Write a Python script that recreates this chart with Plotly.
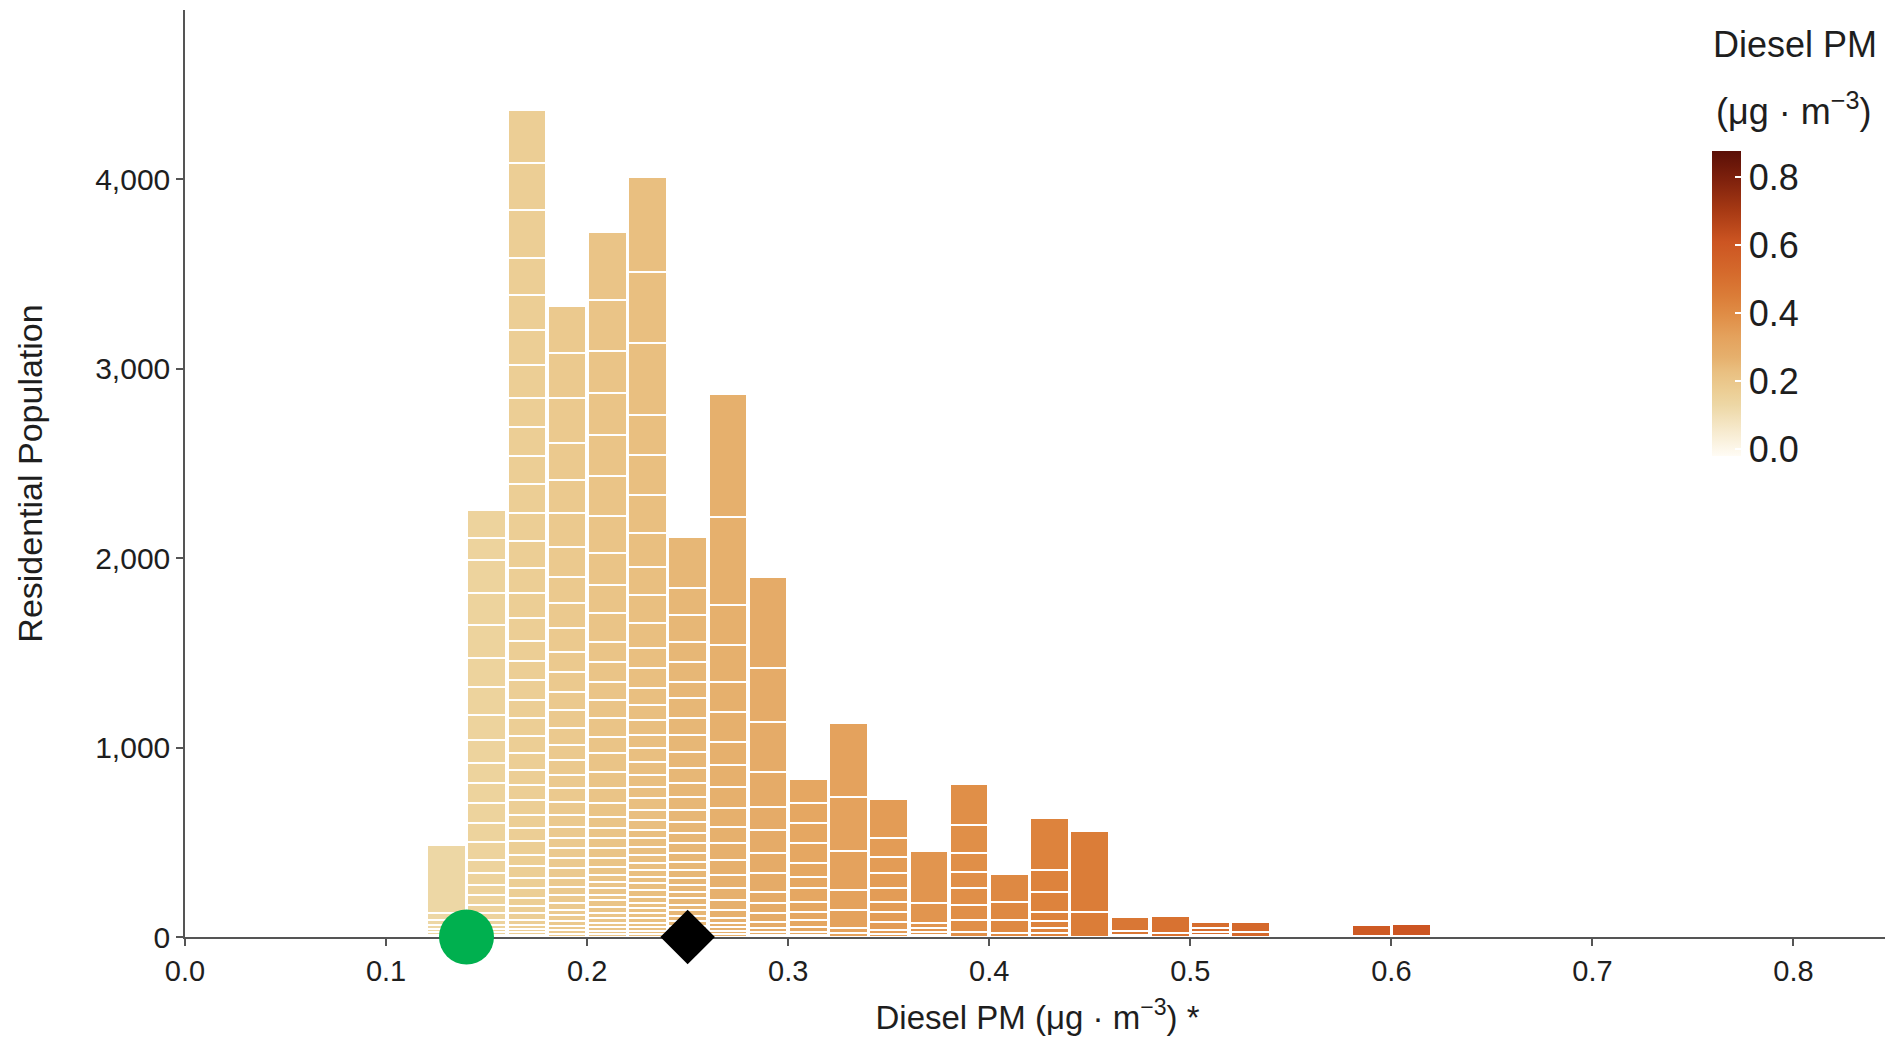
import plotly.graph_objects as go

# ---------------- data ----------------
# Each bin (width 0.02) is a stack of residential-population blocks,
# listed from the top of the stack downwards.
bin_width = 0.02
seg_013 = [359, 37, 26, 21, 16, 16, 11]
seg_015 = [148, 116, 174, 169, 174, 153, 148, 132, 121, 106, 106, 106, 100, 95, 69, 63,
           53, 53, 42, 37, 26, 21, 16, 16, 11]
seg_017 = [280, 248, 253, 195, 185, 185, 174, 153, 148, 153, 148, 148, 143, 132, 132, 121,
           106, 100, 106, 95, 95, 90, 90, 79, 79, 79, 69, 69, 74, 58, 63, 53, 53, 42, 37, 37,
           26, 21, 16, 16, 11]
seg_019 = [248, 237, 237, 195, 174, 179, 158, 137, 132, 127, 106, 106, 95, 95, 90, 79, 79,
           69, 74, 69, 63, 58, 53, 53, 53, 53, 47, 42, 42, 37, 26, 32, 26, 21, 21, 16]
seg_021 = [359, 269, 222, 222, 216, 211, 195, 169, 148, 153, 106, 106, 95, 95, 100, 84, 100,
           84, 79, 74, 58, 53, 53, 53, 47, 42, 37, 32, 37, 26, 37, 32, 26, 26, 21, 21, 16, 16]
seg_023 = [501, 375, 380, 211, 211, 201, 179, 148, 148, 132, 106, 106, 90, 79, 79, 69, 74, 69,
           63, 58, 63, 53, 53, 42, 47, 42, 42, 37, 37, 32, 37, 37, 32, 26, 26, 26, 26, 21, 21,
           16, 16]
seg_025 = [269, 142, 142, 106, 106, 84, 106, 90, 90, 84, 79, 74, 69, 63, 58, 53, 53, 47, 42,
           42, 37, 37, 32, 37, 26, 32, 26, 26, 21, 21, 16]
seg_027 = [654, 464, 211, 195, 158, 158, 121, 116, 111, 100, 84, 90, 79, 69, 63, 53, 42, 26,
           21, 21, 16, 16]
seg_029 = [480, 285, 264, 185, 121, 121, 106, 100, 58, 53, 47, 32, 21, 16, 11]
seg_031 = [127, 106, 106, 106, 74, 58, 74, 53, 42, 37, 26, 16, 11]
seg_033 = [390, 285, 206, 106, 95, 26, 21]
seg_035 = [206, 100, 84, 79, 74, 53, 53, 42, 21, 16]
seg_037 = [274, 106, 26, 21, 16, 11]
seg_039 = [216, 148, 100, 84, 90, 79, 63, 26]
seg_041 = [148, 95, 69, 21]
seg_043 = [274, 116, 106, 47, 37, 26, 21]
seg_045 = [427, 134]
seg_047 = [74, 21, 11]
seg_049 = [90, 21]
seg_051 = [32, 21, 16, 11]
seg_053 = [53, 26]
seg_059 = [58, 6]
seg_061 = [63, 6]

bin_centers = [0.13, 0.15, 0.17, 0.19, 0.21, 0.23, 0.25, 0.27, 0.29, 0.31, 0.33, 0.35,
               0.37, 0.39, 0.41, 0.43, 0.45, 0.47, 0.49, 0.51, 0.53, 0.59, 0.61]
bin_segments = [seg_013, seg_015, seg_017, seg_019, seg_021, seg_023, seg_025, seg_027,
                seg_029, seg_031, seg_033, seg_035, seg_037, seg_039, seg_041, seg_043,
                seg_045, seg_047, seg_049, seg_051, seg_053, seg_059, seg_061]

green_point_x = 0.14   # green circle on the axis
black_point_x = 0.25   # black diamond on the axis

x_ticks = [0.0, 0.1, 0.2, 0.3, 0.4, 0.5, 0.6, 0.7, 0.8]
y_ticks = [0, 1000, 2000, 3000, 4000]
cbar_ticks = [0.0, 0.2, 0.4, 0.6, 0.8]

# ---------------- style ----------------
FONT = "Liberation Sans, Arial, Helvetica, sans-serif"
AXIS_GREY = "#555555"
TEXT = "#1e1e1e"

colorscale = [
    [0.000, "#FFFCF5"],
    [0.078, "#F7EBD0"],
    [0.167, "#EDD7A5"],
    [0.212, "#ECCE95"],
    [0.278, "#E9BF80"],
    [0.323, "#E6B06D"],
    [0.390, "#E4A25D"],
    [0.457, "#E08F48"],
    [0.523, "#DB7D38"],
    [0.601, "#D56A2C"],
    [0.702, "#CC5522"],
    [0.802, "#A83A14"],
    [0.902, "#80220D"],
    [1.000, "#5A0F07"],
]

fig = go.Figure()

for center, segs in zip(bin_centers, bin_segments):
    stack = list(reversed(segs))  # bottom block first
    fig.add_trace(go.Bar(
        x=[center] * len(stack),
        y=stack,
        width=0.0192,
        marker=dict(
            color=[center] * len(stack),
            coloraxis="coloraxis",
            line=dict(color="white", width=2.2),
        ),
        showlegend=False,
        hoverinfo="x+y",
    ))

fig.add_trace(go.Scatter(
    x=[green_point_x], y=[0], mode="markers",
    marker=dict(symbol="circle", size=55, color="#00B04F", line=dict(width=0)),
    cliponaxis=False, showlegend=False,
))
fig.add_trace(go.Scatter(
    x=[black_point_x], y=[0], mode="markers",
    marker=dict(symbol="diamond", size=42, color="#000000", line=dict(width=0)),
    cliponaxis=False, showlegend=False,
))

# The page body has an 8px default margin, so the figure is placed 8px in.
OFF = 8
SCREEN_W, SCREEN_H = 1893, 1041
W, H = SCREEN_W - OFF, SCREEN_H - OFF
plot_left, plot_right, plot_top, plot_bottom = 185, 1890, 10, 937   # screen px
L = plot_left - OFF
R = W - (plot_right - OFF)
T = plot_top - OFF
B = H - (plot_bottom - OFF)
plot_w = plot_right - plot_left
plot_h = plot_bottom - plot_top

def px_to_paper_x(px):
    return (px - plot_left) / plot_w

def px_to_paper_y(py):
    return (plot_bottom - py) / plot_h

fig.update_layout(
    width=W, height=H,
    margin=dict(l=L, r=R, t=T, b=B, pad=0, autoexpand=False),
    paper_bgcolor="white", plot_bgcolor="white",
    barmode="stack", bargap=0,
    font=dict(family=FONT, color=TEXT, size=24),
    coloraxis=dict(
        cmin=-0.02, cmax=0.878,
        colorscale=colorscale,
        colorbar=dict(
            x=px_to_paper_x(1712), xanchor="left", xpad=0,
            y=px_to_paper_y(151), yanchor="top", ypad=0,
            thickness=29, thicknessmode="pixels",
            len=305, lenmode="pixels",
            outlinewidth=0,
            tickvals=cbar_ticks, ticktext=[f"{v:.1f}" for v in cbar_ticks],
            ticks="inside", ticklen=6, tickcolor="white", tickwidth=1.5,
            tickfont=dict(family=FONT, size=36, color=TEXT),
        ),
    ),
    xaxis=dict(
        range=[0, 0.848], showgrid=False, zeroline=False, automargin=False,
        showline=True, linecolor=AXIS_GREY, linewidth=1.5,
        ticks="outside", ticklen=7, tickwidth=1.5, tickcolor=AXIS_GREY,
        tickvals=x_ticks, ticktext=[f"{v:.1f}" for v in x_ticks],
        tickfont=dict(family=FONT, size=29, color=TEXT),
        title=dict(text="Diesel PM (μg · m<sup>−3</sup>) *", standoff=20,
                   font=dict(family=FONT, size=33, color=TEXT)),
        layer="below traces",
    ),
    yaxis=dict(
        range=[0, 4892], showgrid=False, zeroline=False, automargin=False,
        showline=True, linecolor=AXIS_GREY, linewidth=1.5,
        ticks="outside", ticklen=7, tickwidth=1.5, tickcolor=AXIS_GREY,
        tickvals=y_ticks, ticktext=[f"{v:,}" for v in y_ticks],
        tickfont=dict(family=FONT, size=30, color=TEXT),
        title=dict(text="Residential Population", standoff=42,
                   font=dict(family=FONT, size=34, color=TEXT)),
        layer="below traces",
    ),
    annotations=[
        dict(text="Diesel PM", xref="paper", yref="paper",
             x=px_to_paper_x(1795), y=px_to_paper_y(45),
             xanchor="center", yanchor="middle", showarrow=False,
             font=dict(family=FONT, size=36, color=TEXT)),
        dict(text="(μg · m<sup>−3</sup>)", xref="paper", yref="paper",
             x=px_to_paper_x(1793), y=px_to_paper_y(109),
             xanchor="center", yanchor="middle", showarrow=False,
             font=dict(family=FONT, size=36, color=TEXT)),
    ],
)

fig.write_html("out.html")
